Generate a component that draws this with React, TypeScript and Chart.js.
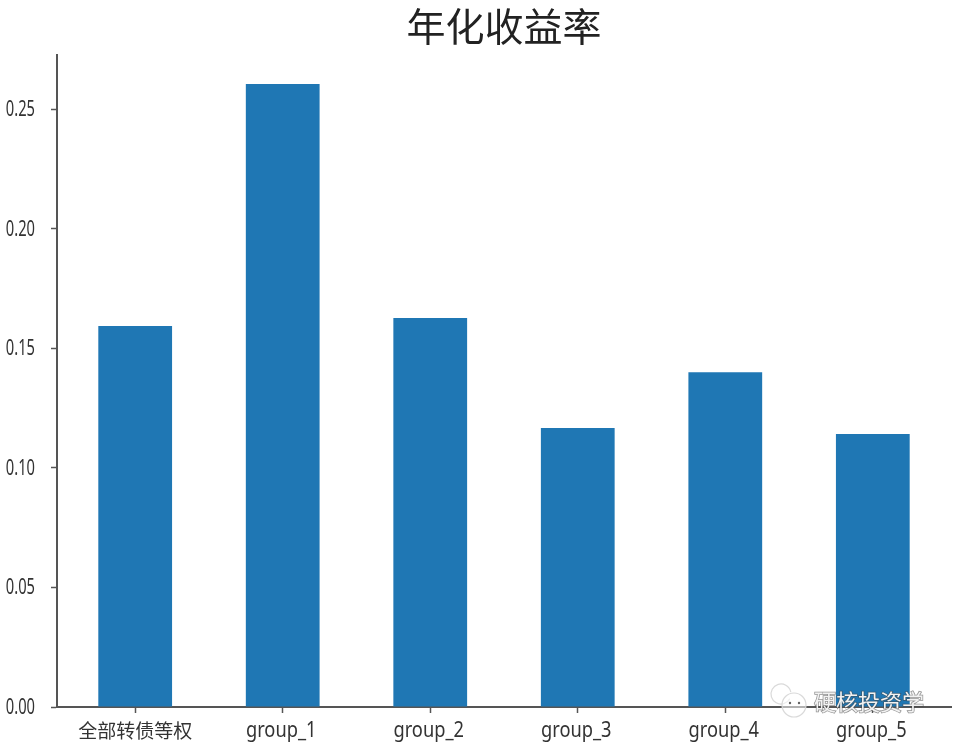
import React, { useEffect, useRef } from 'react';
import { Chart, registerables } from 'chart.js';

Chart.register(...registerables);

const categories: string[] = ['全部转债等权', 'group_1', 'group_2', 'group_3', 'group_4', 'group_5'];
const returns: number[] = [0.1593, 0.2605, 0.1626, 0.1166, 0.14, 0.1141];
const chartTitle = '年化收益率';
const watermark = '硬核投资学';

const SPINE = '#555555';
const TEXT = '#333333';

// the reference's tick text is squeezed sideways, no condensed font is installed
function squeezedText(ctx: CanvasRenderingContext2D, text: string, x: number, y: number, sx: number) {
  ctx.save();
  ctx.translate(x, y);
  ctx.scale(sx, 1);
  ctx.fillText(text, 0, 0);
  ctx.restore();
}

const tickLabelPlugin = {
  id: 'tickLabels',
  afterDraw(chart: Chart) {
    const ctx = chart.ctx;
    const xScale: any = chart.scales.x;
    const yScale: any = chart.scales.y;
    ctx.save();
    ctx.fillStyle = TEXT;

    ctx.font = '21px "Noto Sans"';
    ctx.textAlign = 'right';
    ctx.textBaseline = 'middle';
    yScale.ticks.forEach((tick: any) => {
      squeezedText(ctx, tick.label, 35, yScale.getPixelForValue(tick.value) + 1, 0.7);
    });

    ctx.textAlign = 'center';
    xScale.ticks.forEach((tick: any) => {
      const x = xScale.getPixelForValue(tick.value);
      if (/^[\x00-\x7f]+$/.test(tick.label)) {
        ctx.font = '21px "Noto Sans"';
        ctx.textBaseline = 'alphabetic';
        squeezedText(ctx, tick.label, x - 1.5, 737, 0.87);
      } else {
        ctx.font = '19px "Noto Sans CJK SC"';
        ctx.textBaseline = 'middle';
        squeezedText(ctx, tick.label, x, 731, 1);
      }
    });
    ctx.restore();
  },
};

// WeChat-style watermark sitting on the lower right corner
const watermarkPlugin = {
  id: 'watermark',
  afterDraw(chart: Chart) {
    const ctx = chart.ctx;
    ctx.save();
    ctx.strokeStyle = 'rgba(215,215,215,0.95)';
    ctx.lineWidth = 1.2;
    ctx.beginPath();
    ctx.arc(781, 694, 10, 0.5, Math.PI * 2 - 0.2);
    ctx.stroke();
    ctx.beginPath();
    ctx.arc(794, 705, 12, 0, Math.PI * 2);
    ctx.fillStyle = 'rgba(255,255,255,0.55)';
    ctx.fill();
    ctx.stroke();
    ctx.fillStyle = '#666666';
    ctx.beginPath();
    ctx.arc(790, 703, 1.2, 0, Math.PI * 2);
    ctx.arc(799, 703, 1.2, 0, Math.PI * 2);
    ctx.fill();
    ctx.font = '22px "Noto Sans CJK SC"';
    ctx.textAlign = 'left';
    ctx.textBaseline = 'middle';
    ctx.lineWidth = 1.5;
    ctx.strokeStyle = 'rgba(70,70,70,0.6)';
    ctx.strokeText(watermark, 814, 702);
    ctx.fillStyle = '#f2f2f2';
    ctx.fillText(watermark, 814, 702);
    ctx.restore();
  },
};

export default function App() {
  const chartRef = useRef<HTMLCanvasElement | null>(null);

  useEffect(() => {
    if (!chartRef.current) return;
    const chartInstance = new Chart(chartRef.current, {
      type: 'bar',
      data: {
        datasets: [
          {
            data: returns.map((v, i) => ({ x: i, y: v })),
            backgroundColor: '#1f77b4',
            categoryPercentage: 0.5,
            barPercentage: 1,
          },
        ],
      },
      options: {
        responsive: false,
        animation: false,
        devicePixelRatio: 1,
        layout: { padding: { right: 6 } },
        plugins: {
          legend: { display: false },
          tooltip: { enabled: false },
          title: {
            display: true,
            text: chartTitle,
            fullSize: false,
            color: '#222222',
            font: { family: '"Noto Sans CJK SC"', size: 39, weight: 'normal' },
            padding: { top: 3, bottom: 5.2 },
          },
        },
        scales: {
          x: {
            type: 'linear',
            offset: false,
            min: -0.53,
            max: 5.53,
            afterBuildTicks: (scale: any) => {
              scale.ticks = categories.map((_, i) => ({ value: i }));
            },
            afterFit: (scale: any) => {
              scale.height = 37;
            },
            border: { color: SPINE, width: 2 },
            grid: { offset: false, drawOnChartArea: false, drawTicks: true, tickLength: 6, color: SPINE, tickWidth: 1.5 },
            ticks: {
              display: false,
              autoSkip: false,
              maxRotation: 0,
              callback: (value: any) => categories[value],
            },
          },
          y: {
            min: 0,
            max: 0.2726,
            afterFit: (scale: any) => {
              scale.width = 57;
            },
            border: { color: SPINE, width: 2 },
            grid: { drawOnChartArea: false, drawTicks: true, tickLength: 6, color: SPINE, tickWidth: 1.5 },
            ticks: {
              display: false,
              stepSize: 0.05,
              includeBounds: false,
              callback: (value: any) => Number(value).toFixed(2),
            },
          },
        },
      },
      plugins: [tickLabelPlugin, watermarkPlugin],
    } as any);

    return () => {
      chartInstance.destroy();
    };
  }, []);

  return (
    <div style={{ position: 'absolute', left: 0, top: 0, width: 957, height: 744, background: '#ffffff' }}>
      <canvas ref={chartRef} width={957} height={744} style={{ display: 'block' }} />
    </div>
  );
}
